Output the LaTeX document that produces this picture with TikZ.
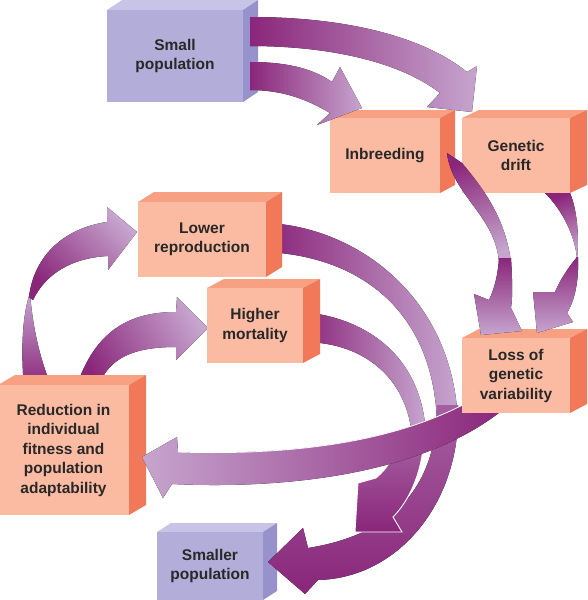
\documentclass[tikz,border=0pt]{standalone}
\usepackage{fontspec}
\newfontfamily\labelfont{Liberation Sans}
\definecolor{pfront}{RGB}{178,174,217}
\definecolor{pside}{RGB}{151,146,204}
\definecolor{ptop}{RGB}{199,196,232}
\definecolor{sfront}{RGB}{251,187,162}
\definecolor{sside}{RGB}{241,121,90}
\definecolor{stop}{RGB}{248,160,130}
\definecolor{adark}{RGB}{138,38,122}
\definecolor{alight}{RGB}{198,165,206}
\definecolor{amid}{RGB}{165,95,160}
\definecolor{txt}{RGB}{40,40,40}
\newcommand{\cubebox}[9]{%
  \fill[#8top] (#2,#3) -- (#2+#6,#3-#7) -- (#4+#6,#3-#7) -- (#4,#3) -- cycle;
  \fill[#8side] (#4,#3) -- (#4+#6,#3-#7) -- (#4+#6,#5-#7) -- (#4,#5) -- cycle;
  \node[cubeface, fill=#8front, minimum width={(#4-#2)*1pt}, minimum height={(#5-#3)*1pt}] (#1) at ({(#2+#4)/2},{(#3+#5)/2}) {#9};
}
\begin{document}
\begin{tikzpicture}[x=1pt,y=-1pt,
  cubeface/.style={inner sep=0pt, align=center, text=txt, font=\labelfont\bfseries\fontsize{15.5}{19.5}\selectfont},
  seam/.style={white, line width=0.8pt}]
\useasboundingbox (0,0) rectangle (588,600);

% Reduction -> Lower reproduction (stem and upper part)
\fill[top color=alight, bottom color=adark] (24,388) .. controls (20,340) and (24,310) .. (30,293) .. controls (32,320) and (38,355) .. (52,388) -- cycle;
\fill[top color=adark, bottom color=alight, shading angle=135] (29,297) .. controls (34,255) and (65,228) .. (107,222) -- (107,207) -- (137,232) -- (108,270) -- (108,256) .. controls (70,258) and (45,275) .. (33,300) -- cycle;
% Reduction -> Higher mortality
\fill[top color=adark, bottom color=alight, shading angle=120] (76,388) .. controls (95,330) and (130,312) .. (176,312) -- (177,297) -- (208,328) -- (176,360) -- (176,347) .. controls (135,347) and (108,357) .. (98,388) -- cycle;

\cubebox{red}{-2}{385}{129}{515}{17}{10}{s}{Reduction in\\individual\\fitness and\\population\\adaptability}
\cubebox{smp}{157}{532}{263}{600}{14}{9}{p}{Smaller\\population}

% Lower reproduction -> Smaller population
\fill[left color=adark, right color=alight] (268,223) .. controls (360,228) and (455,300) .. (458,425) -- (437,425) .. controls (435,320) and (370,258) .. (268,252) -- cycle;
% Higher mortality -> Smaller population
\fill[left color=adark, right color=alight] (303,312) .. controls (370,318) and (425,360) .. (426,440) -- (412,440) .. controls (410,385) and (370,342) .. (303,342) -- cycle;
\fill[top color=amid, bottom color=adark] (437,405) -- (458,405) .. controls (462,500) and (400,578) .. (318,580) -- (305,594) -- (268,562) -- (303,528) -- (308,548) .. controls (390,535) and (437,490) .. (437,405) -- cycle;
\path[draw=white, line width=0.9pt, top color=amid, bottom color=adark] (396,440) -- (424,440) .. controls (421,480) and (405,505) .. (393,517) -- (402,532) -- (355,532) -- (358,483) -- (376,478) .. controls (388,468) and (396,455) .. (396,440) -- cycle;
% Loss -> Reduction
\fill[left color=alight, right color=adark] (472,400) .. controls (400,440) and (300,456) .. (178,452) -- (177,437) -- (142,457) -- (163,498) -- (172,484) .. controls (300,490) and (430,470) .. (505,408) -- cycle;
\draw[seam] (472,400) .. controls (400,440) and (300,456) .. (178,452);

\cubebox{sp}{107}{10}{243}{102}{15}{10}{p}{Small\\population}
\cubebox{inb}{330}{118}{440}{193}{15}{8}{s}{Inbreeding}
\cubebox{gd}{462}{118}{570}{193}{17}{8}{s}{Genetic\\drift}
\cubebox{loss}{462}{338}{570}{413}{17}{9}{s}{Loss of\\genetic\\variability}
\cubebox{lr}{138}{202}{266}{277}{16}{10}{s}{Lower\\reproduction}
\cubebox{hm}{207}{288}{303}{363}{17}{9}{s}{Higher\\mortality}

% Small population -> Genetic drift
\fill[left color=adark, right color=alight] (250,17) .. controls (350,17) and (425,38) .. (467,72) -- (477,66) -- (472,112) -- (427,107) -- (440,93) .. controls (400,62) and (330,46) .. (250,46) -- cycle;
% Small population -> Inbreeding
\fill[left color=adark, right color=alight] (250,62) .. controls (290,62) and (315,70) .. (332,82) -- (340,67) -- (362,108) -- (317,125) -- (330,113) .. controls (305,98) and (280,90) .. (250,90) -- cycle;
% Inbreeding -> Loss
\fill[top color=adark, bottom color=alight, shading angle=20] (447,153) .. controls (452,195) and (495,215) .. (499,262) -- (511,262) .. controls (505,215) and (480,185) .. (462,163) -- cycle;
\fill[top color=adark, bottom color=alight] (499,258) .. controls (498,275) and (494,290) .. (489,300) -- (474,294) -- (481,335) -- (522,331) -- (511,308) .. controls (513,295) and (512,275) .. (511,258) -- cycle;
% Genetic drift -> Loss
\fill[top color=adark, bottom color=alight, shading angle=20] (545,193) .. controls (562,210) and (575,235) .. (577,259) .. controls (579,240) and (578,212) .. (570,193) -- cycle;
\fill[top color=adark, bottom color=alight] (577,257) .. controls (568,268) and (560,280) .. (555,292) -- (533,292) -- (537,333) -- (573,322) -- (567,313) .. controls (575,300) and (579,280) .. (578,257) -- cycle;
\end{tikzpicture}
\end{document}
